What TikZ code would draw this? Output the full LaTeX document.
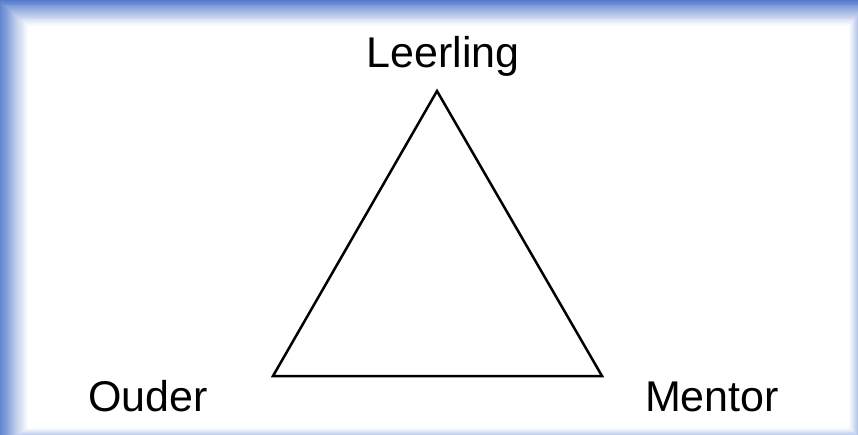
\documentclass[tikz,border=0pt]{standalone}
\usepackage{fontspec}
\setmainfont{Liberation Sans}
\definecolor{frameblue}{RGB}{70,112,200}
\begin{document}
\begin{tikzpicture}[x=1pt,y=-1pt,
  lbl/.style={font=\fontsize{43}{48}\selectfont, anchor=base, inner sep=0pt},
  tri/.style={draw=black, line width=2.5pt, line join=miter}]
\useasboundingbox (0,0) rectangle (858,435);
\fill[white] (0,0) rectangle (858,435);
% gradient frame
\foreach \i in {0,...,30}{
  \pgfmathsetmacro{\t}{\i/30}
  \pgfmathsetmacro{\p}{100*(1-\t)^1.1}
  \fill[frameblue!\p!white] (-4+32*\t,-2+28*\t) rectangle (870-21*\t,447-19*\t);
}
% triangle
\coordinate (top) at (437,91);
\coordinate (bl) at (273,376);
\coordinate (br) at (602,376);
\draw[tri] (top) -- (bl) -- (br) -- cycle;
% labels
\node[lbl] (leerling) at (443,68) {Leerling};
\node[lbl] (ouder) at (148,411) {Ouder};
\node[lbl] (mentor) at (712,411) {Mentor};
\end{tikzpicture}
\end{document}
